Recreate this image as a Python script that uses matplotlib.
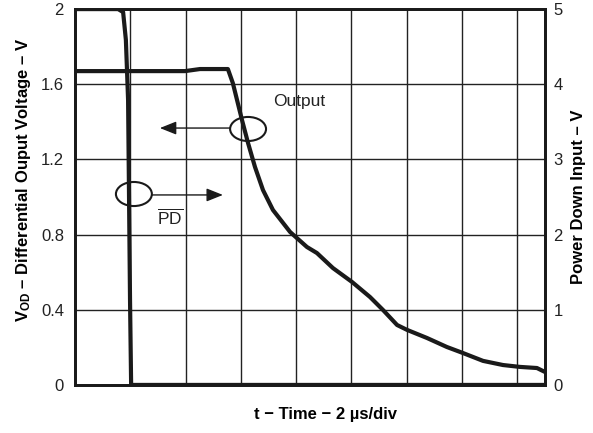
import matplotlib
matplotlib.use("Agg")
import matplotlib.pyplot as plt
from matplotlib.patches import Ellipse

plt.rcParams['font.family'] = ['Liberation Sans', 'DejaVu Sans']
plt.rcParams['mathtext.fontset'] = 'custom'
plt.rcParams['mathtext.rm'] = 'Liberation Sans'
plt.rcParams['mathtext.bf'] = 'Liberation Sans:bold'

# output (left axis, V) vs time (us)
out_t = [0, 3.98, 4.52, 5.53, 5.71, 6.04, 6.26, 6.51, 6.80, 7.16, 7.78, 8.39, 8.75,
         9.33, 10.02, 10.67, 11.14, 11.65, 12.01, 12.73, 13.45, 14.03, 14.76, 15.48,
         16.09, 16.71, 17.0]
out_v = [1.670, 1.670, 1.681, 1.681, 1.606, 1.410, 1.287, 1.160, 1.037, 0.931, 0.814,
         0.734, 0.702, 0.622, 0.548, 0.468, 0.399, 0.319, 0.293, 0.250, 0.202, 0.170,
         0.128, 0.106, 0.096, 0.090, 0.069]

# power down input (right axis, V)
pd_t = [0, 1.56, 1.74, 1.84, 1.92, 1.99, 2.03, 17.0]
pd_v = [5, 5, 4.96, 4.59, 3.79, 1.13, 0, 0]

left_ticks = [0, 0.4, 0.8, 1.2, 1.6, 2]
left_labels = ['0', '0.4', '0.8', '1.2', '1.6', '2']
right_ticks = [0, 1, 2, 3, 4, 5]
x_grid = [0, 2, 4, 6, 8, 10, 12, 14, 16]

fig = plt.figure(figsize=(5.93, 4.33), dpi=100)
ax = fig.add_axes([0.1265, 0.111, 0.7925, 0.868])
ax.set_xlim(0, 17)
ax.set_ylim(0, 2)
ax.set_xticks(x_grid)
ax.set_xticklabels([])
ax.set_yticks(left_ticks)
ax.set_yticklabels(left_labels, fontsize=12, color='#222222')
ax.tick_params(length=0, pad=8)
ax.grid(True, color='#222222', lw=1.0)
ax.set_axisbelow(True)
for s in ax.spines.values():
    s.set_linewidth(2.0)
    s.set_color('#1a1a1a')

ax2 = ax.twinx()
ax2.set_ylim(0, 5)
ax2.set_yticks(right_ticks)
ax2.set_yticklabels([str(v) for v in right_ticks], fontsize=12, color='#222222')
ax2.tick_params(length=0, pad=6)
for s in ax2.spines.values():
    s.set_linewidth(2.0)
    s.set_color('#1a1a1a')

ax.plot(out_t, out_v, color='#1a1a1a', lw=3.0, solid_joinstyle='round', zorder=5)
ax2.plot(pd_t, pd_v, color='#1a1a1a', lw=3.0, solid_joinstyle='round', zorder=5)

# annotations
ax.add_patch(Ellipse((6.26, 1.362), 1.30, 0.128, fill=False, lw=1.5, color='#1a1a1a', zorder=6))
ax.annotate('', xy=(3.07, 1.367), xytext=(5.61, 1.367),
            arrowprops=dict(arrowstyle='-|>,head_length=1.0,head_width=0.4',
                            mutation_scale=10, lw=1.0, color='#1a1a1a', shrinkA=0, shrinkB=0))
ax.add_patch(Ellipse((2.13, 1.016), 1.30, 0.128, fill=False, lw=1.5, color='#1a1a1a', zorder=6))
ax.annotate('', xy=(5.35, 1.011), xytext=(2.78, 1.011),
            arrowprops=dict(arrowstyle='-|>,head_length=1.0,head_width=0.4',
                            mutation_scale=10, lw=1.0, color='#1a1a1a', shrinkA=0, shrinkB=0))
ax.text(8.10, 1.51, 'Output', fontsize=12.5, ha='center', va='center', color='#222222')
ax.text(3.44, 0.894, r'$\overline{\mathrm{PD}}$', fontsize=12.5, ha='center', va='center',
        color='#222222')

ax.set_xlabel('t \u2212 Time \u2212 2 \u00b5s/div', fontsize=12, fontweight='bold')
ax.xaxis.set_label_coords(0.534, -0.06)
ax.set_ylabel(r'$\mathbf{V_{OD}}$' + ' \u2013 Differential Ouput Voltage \u2013 V',
              fontsize=12, fontweight='bold')
ax.yaxis.set_label_coords(-0.089, 0.545)
ax2.set_ylabel('Power Down Input \u2013 V', fontsize=12, fontweight='bold', labelpad=6)

fig.savefig('out.png', dpi=100)
